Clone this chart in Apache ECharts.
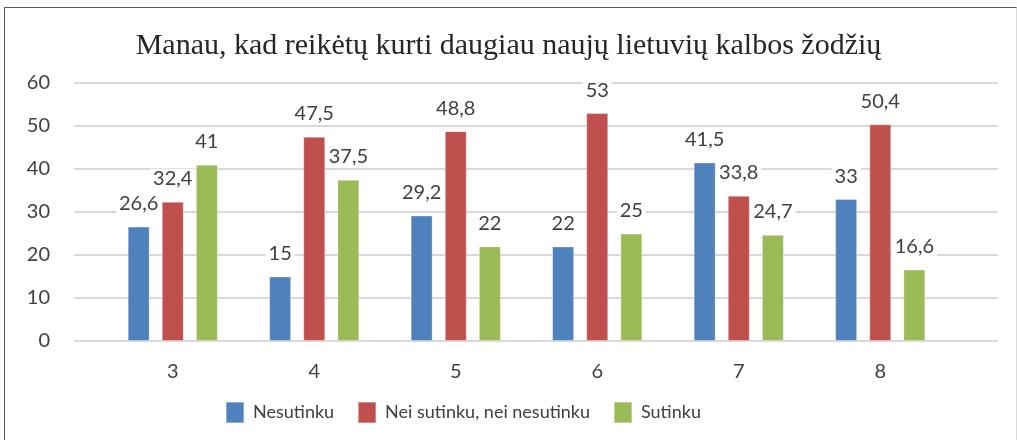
<!DOCTYPE html>
<html lang="lt">
<head>
    <meta charset="UTF-8">
    <title>Manau, kad reikėtų kurti daugiau naujų lietuvių kalbos žodžių</title>
    <script src="https://cdn.jsdelivr.net/npm/echarts@6/dist/echarts.min.js"></script>
    <style>
        html, body { margin: 0; padding: 0; background: #fff; }
        #container { width: 1017px; height: 440px; }
        #frame {
            position: absolute; left: 4px; top: 7px; width: 1011px; height: 460px;
            border-left: 1px solid #595959; border-top: 1px solid #595959;
            border-right: 1px solid #d9d9d9; pointer-events: none;
        }
    </style>
</head>
<body>
<div id="container"></div>
<div id="frame"></div>
<script type="text/javascript">
var categories = ['3', '4', '5', '6', '7', '8'];
var nesutinku = [26.6, 15, 29.2, 22, 41.5, 33];
var neiSutinku = [32.4, 47.5, 48.8, 53, 33.8, 50.4];
var sutinku = [41, 37.5, 22, 25, 24.7, 16.6];
var seriesNames = ['Nesutinku', 'Nei sutinku, nei nesutinku', 'Sutinku'];

var textFont = 'Lato, sans-serif';
var textColor = '#404040';

var myChart = echarts.init(document.getElementById('container'));

var labelOption = {
    show: true,
    position: 'top',
    distance: 13,
    fontFamily: textFont,
    fontSize: 20,
    color: textColor,
    backgroundColor: '#fff',
    padding: [0, 3],
    formatter: function (p) {
        return String(p.value).replace('.', ',');
    }
};

function barSeries(name, data) {
    return {
        name: name,
        type: 'bar',
        xAxisIndex: 1,
        yAxisIndex: 1,
        barWidth: 22,
        barGap: '55%',
        data: data,
        label: labelOption,
        itemStyle: {
            borderColor: 'rgba(255,255,255,0.35)',
            borderWidth: 1
        }
    };
}

var option = {
    animation: false,
    color: ['#4F81BD', '#C0504D', '#9BBB59'],
    title: {
        text: 'Manau, kad reikėtų kurti daugiau naujų lietuvių kalbos žodžių',
        left: 'center',
        top: 26,
        textStyle: {
            fontFamily: '"Liberation Serif", serif',
            fontWeight: 'normal',
            fontSize: 30,
            color: '#262626'
        }
    },
    legend: {
        data: seriesNames,
        left: 220,
        top: 396,
        itemWidth: 18,
        itemHeight: 21,
        itemGap: 23,
        icon: 'rect',
        textStyle: {
            fontFamily: textFont,
            fontSize: 18,
            color: textColor,
            padding: [0, 0, 0, 4]
        }
    },
    grid: [
        {left: 74, right: 19, top: 83, bottom: 99},
        {left: 102, width: 849, top: 83, bottom: 99}
    ],
    xAxis: [
        {type: 'value', gridIndex: 0, show: false, min: 0, max: 1},
        {
            type: 'category',
            gridIndex: 1,
            data: categories,
            axisLine: {show: false},
            axisTick: {show: false},
            axisLabel: {
                margin: 21,
                fontFamily: textFont,
                fontSize: 20,
                color: textColor
            }
        }
    ],
    yAxis: [
        {
            type: 'value',
            gridIndex: 0,
            min: 0,
            max: 60,
            interval: 10,
            axisLine: {show: false},
            axisTick: {show: false},
            axisLabel: {
                margin: 24,
                fontFamily: textFont,
                fontSize: 20,
                color: textColor
            },
            splitLine: {lineStyle: {color: '#d9d9d9', width: 2}}
        },
        {type: 'value', gridIndex: 1, min: 0, max: 60, interval: 10, show: false}
    ],
    series: [
        barSeries(seriesNames[0], nesutinku),
        barSeries(seriesNames[1], neiSutinku),
        barSeries(seriesNames[2], sutinku)
    ]
};

myChart.setOption(option);
</script>
</body>
</html>
